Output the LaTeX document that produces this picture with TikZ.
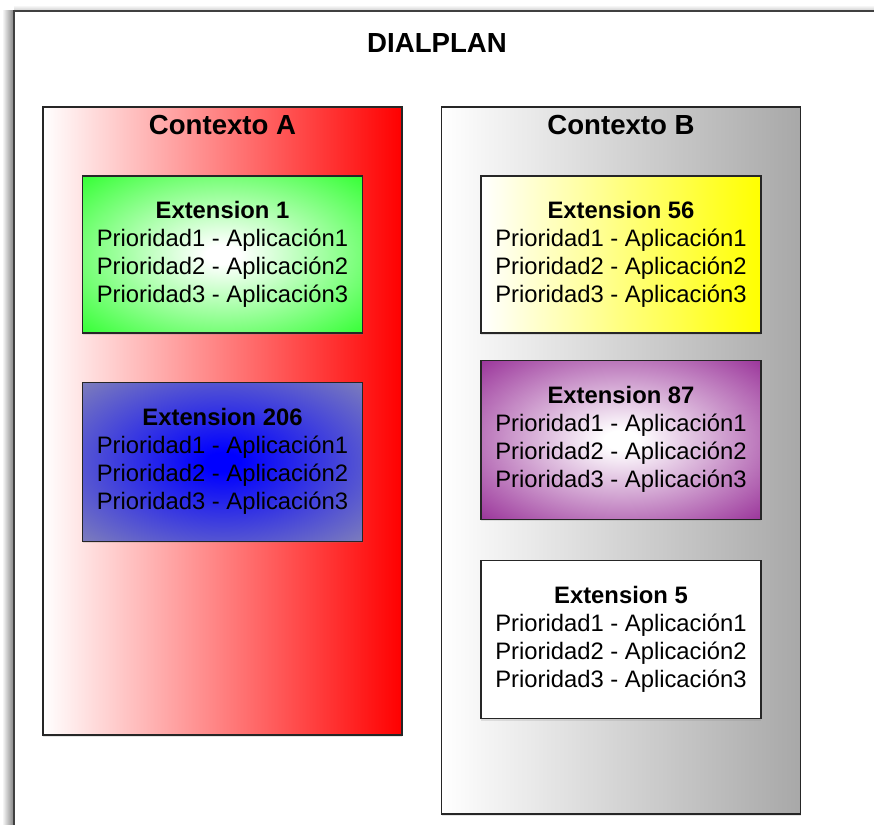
\documentclass[tikz,border=0pt]{standalone}
\usepackage{fontspec}
\setmainfont{Liberation Sans}
\usepackage{xcolor}
\usepackage{tikz}
\usetikzlibrary{positioning}
\usetikzlibrary{shadows}

\definecolor{extgreen}{RGB}{0,255,0}
\definecolor{extgray}{RGB}{158,158,170}
\definecolor{extpurple}{RGB}{128,0,128}
\definecolor{ctxgray}{RGB}{168,168,168}

\colorlet{glowin}{white}
\colorlet{glowout}{extgreen}
\pgfdeclareradialshading[glowin,glowout]{extglow}{\pgfpoint{0bp}{0bp}}{color(0bp)=(glowin); color(3bp)=(glowin); color(44bp)=(glowout); color(75bp)=(glowout)}

\tikzset{
	outerframe/.style={draw=black!75, line width=1.6pt},
	ctxbox/.style={rectangle, draw=black!85, line width=1.3pt, minimum width=359pt, inner sep=0pt, drop shadow={shadow xshift=0pt, shadow yshift=-2pt, opacity=.2}},
	extbox/.style={rectangle, draw=black!85, line width=1.3pt, minimum width=280pt, minimum height=157pt, align=center, font=\fontsize{23.8}{28}\selectfont, drop shadow={shadow xshift=0pt, shadow yshift=-2pt, opacity=.2}},
	glowfill/.style 2 args={/utils/exec={\colorlet{glowin}{#1}\colorlet{glowout}{#2}}, shade, shading=extglow},
	ctxtitle/.style={font=\fontsize{27.6}{32}\selectfont\bfseries},
	maintitle/.style={font=\fontsize{27.6}{32}\selectfont\bfseries}
}

\begin{document}
\begin{tikzpicture}[x=1pt,y=-1pt]
	\useasboundingbox (0,0) rectangle (874,824);
	\clip (0,0) rectangle (874,824);

	\shade[left color=white, right color=black!50] (2,11) rectangle (14,824);
	\shade[top color=white, bottom color=black!20] (14,5) rectangle (874,11);
	\draw[outerframe, fill=white] (14,11) rectangle (900,850);

	\node[maintitle, anchor=base] (dialplan) at (437,53) {DIALPLAN};

	\node[ctxbox, minimum height=628pt, left color=white, right color=red] (ctxA) at (222.5,421) {};
	\node[ctxtitle, anchor=base] (tituloA) at ([yshift=-28pt]ctxA.north) {Contexto A};

	\node[ctxbox, minimum height=707pt, left color=white, right color=ctxgray] (ctxB) at (621,460.5) {};
	\node[ctxtitle, anchor=base] (tituloB) at ([yshift=-28pt]ctxB.north) {Contexto B};

	\node[extbox, glowfill={white}{extgreen}] (ext1) [below=69pt of ctxA.north] {\textbf{Extension 1}\\Prioridad1 - Aplicación1\\Prioridad2 - Aplicación2\\Prioridad3 - Aplicación3};
	\node[extbox, minimum height=159pt, glowfill={blue}{extgray}] (ext206) [below=48pt of ext1] {\textbf{Extension 206}\\Prioridad1 - Aplicación1\\Prioridad2 - Aplicación2\\Prioridad3 - Aplicación3};

	\node[extbox, left color=white, right color=yellow] (ext56) [below=69pt of ctxB.north] {\textbf{Extension 56}\\Prioridad1 - Aplicación1\\Prioridad2 - Aplicación2\\Prioridad3 - Aplicación3};
	\node[extbox, minimum height=159pt, glowfill={white}{extpurple}] (ext87) [below=26pt of ext56] {\textbf{Extension 87}\\Prioridad1 - Aplicación1\\Prioridad2 - Aplicación2\\Prioridad3 - Aplicación3};
	\node[extbox, minimum height=158pt, fill=white] (ext5) [below=40pt of ext87] {\textbf{Extension 5}\\Prioridad1 - Aplicación1\\Prioridad2 - Aplicación2\\Prioridad3 - Aplicación3};
\end{tikzpicture}
\end{document}
